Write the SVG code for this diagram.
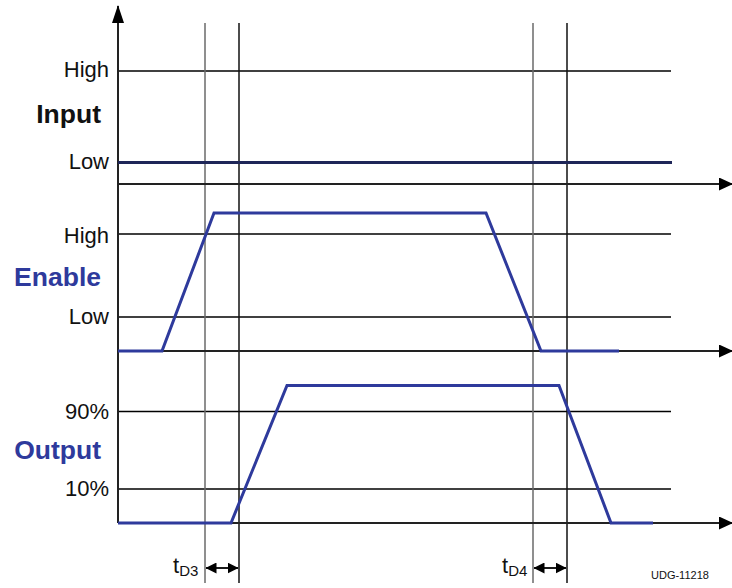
<svg xmlns="http://www.w3.org/2000/svg" width="732" height="588" viewBox="0 0 732 588">
<style>
.lbl{font-family:"Liberation Sans",Arial,sans-serif;font-size:22px;fill:#111;text-anchor:end}
.ttl{font-family:"Liberation Sans",Arial,sans-serif;font-size:26.5px;font-weight:bold;text-anchor:end}
.grid{stroke:#000;stroke-width:1.3;fill:none}
.axis{stroke:#222;stroke-width:2;fill:none}
.vl{stroke-width:1.5;fill:none}
.wave{stroke:#2e3a9c;stroke-width:3;fill:none;stroke-linejoin:miter}
.sub{font-size:15px}
.td{font-family:"Liberation Sans",Arial,sans-serif;font-size:22px;fill:#111}
</style>
<defs>
<marker id="ah" markerWidth="14" markerHeight="13" refX="13" refY="6.5" orient="auto" markerUnits="userSpaceOnUse">
<path d="M0,0 L14,6.5 L0,13 Z" fill="#000"/>
</marker>
<marker id="av" markerWidth="18" markerHeight="12" refX="17" refY="6" orient="auto" markerUnits="userSpaceOnUse">
<path d="M0,0 L18,6 L0,12 Z" fill="#000"/>
</marker>
<marker id="sa" markerWidth="11" markerHeight="11" refX="10.5" refY="5.5" orient="auto-start-reverse" markerUnits="userSpaceOnUse">
<path d="M0,0 L11,5.5 L0,11 Z" fill="#000"/>
</marker>
</defs>
<rect width="732" height="588" fill="#fff"/>
<g id="connectors">
<line class="grid" x1="118" y1="71" x2="671" y2="71"/>
<line class="grid" x1="118" y1="234" x2="671" y2="234"/>
<line class="grid" x1="118" y1="317" x2="671" y2="317"/>
<line class="grid" x1="118" y1="411.5" x2="671" y2="411.5"/>
<line class="grid" x1="118" y1="489" x2="671" y2="489"/>
<line class="vl" stroke="#6a6a6a" x1="205" y1="23" x2="205" y2="583"/>
<line class="vl" stroke="#111" x1="239" y1="23" x2="239" y2="583"/>
<line class="vl" stroke="#6a6a6a" x1="533" y1="23" x2="533" y2="583"/>
<line class="vl" stroke="#111" x1="567" y1="23" x2="567" y2="583"/>
<line class="axis" x1="118" y1="523" x2="118" y2="6" marker-end="url(#av)"/>
<line class="axis" x1="118" y1="184" x2="732" y2="184" marker-end="url(#ah)"/>
<line class="axis" x1="118" y1="351" x2="732" y2="351" marker-end="url(#ah)"/>
<line class="axis" x1="118" y1="523" x2="732" y2="523" marker-end="url(#ah)"/>
<line stroke="#000" stroke-width="1.8" x1="206" y1="568" x2="238" y2="568" marker-start="url(#sa)" marker-end="url(#sa)"/>
<line stroke="#000" stroke-width="1.8" x1="534" y1="568" x2="566" y2="568" marker-start="url(#sa)" marker-end="url(#sa)"/>
</g>
<g id="input">
<line stroke="#1e2658" stroke-width="3" x1="118" y1="162.5" x2="672" y2="162.5"/>
<text class="ttl" x="101" y="123" fill="#111">Input</text>
<text class="lbl" x="109" y="77">High</text>
<text class="lbl" x="109" y="169">Low</text>
</g>
<g id="enable">
<polyline class="wave" points="118,351 162,351 214,213 486,213 541,351 619,351"/>
<text class="ttl" x="101" y="286" fill="#2e3a9c">Enable</text>
<text class="lbl" x="109" y="243">High</text>
<text class="lbl" x="109" y="324">Low</text>
</g>
<g id="output">
<polyline class="wave" points="118,523 231,523 287,385.5 559,385.5 611,523 653,523"/>
<text class="ttl" x="101" y="459" fill="#2e3a9c">Output</text>
<text class="lbl" x="109" y="419">90%</text>
<text class="lbl" x="109" y="496">10%</text>
</g>
<g id="tD3">
<text class="td" x="173" y="573">t<tspan class="sub" dy="3">D3</tspan></text>
</g>
<g id="tD4">
<text class="td" x="502" y="573">t<tspan class="sub" dy="3">D4</tspan></text>
</g>
<g id="code">
<text x="651" y="579" font-family="Liberation Sans, Arial, sans-serif" font-size="11" fill="#111">UDG-11218</text>
</g>
</svg>
